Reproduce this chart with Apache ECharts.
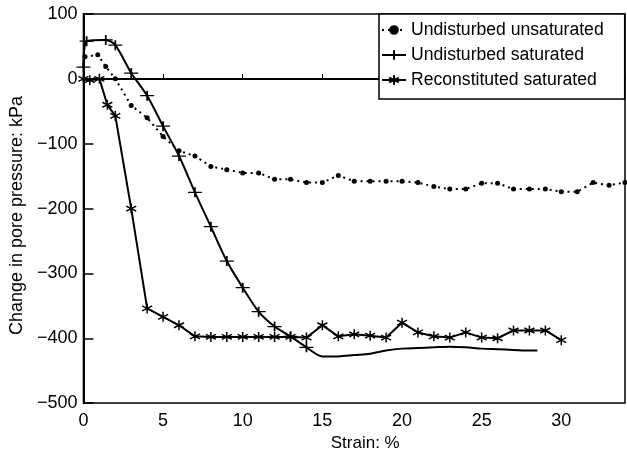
<!DOCTYPE html>
<html>
<head>
<meta charset="utf-8">
<script src="https://cdn.jsdelivr.net/npm/echarts@6/dist/echarts.min.js"></script>
<style>
  html, body { margin: 0; padding: 0; background: #fff; }
  #chart { width: 627px; height: 457px; }
</style>
</head>
<body>
<div id="chart"></div>
<script>
// strain (%) and pore pressure change (kPa)
var unsatStrain = [0.1, 0.9, 1.4, 2, 3, 4, 5, 6, 7, 8, 9, 10, 11, 12, 13, 14, 15, 16, 17, 18, 19, 20, 21, 22, 23, 24, 25, 26, 27, 28, 29, 30, 31, 32, 33, 34]
var unsatPressure = [34, 37, 19, 0, -41, -60, -89, -111, -119, -135, -140, -145, -145, -155, -155, -160, -160, -149, -158, -158, -158, -158, -160, -166, -170, -170, -161, -161, -170, -170, -170, -174, -174, -160, -164, -160]

var satStrain = [0, 0.2, 1.4, 2, 3, 4, 5, 6, 7, 8, 9, 10, 11, 12, 13, 14, 15, 16, 17, 18, 19, 20, 21, 22, 23, 24, 25, 26, 27, 28, 28.5]
var satPressure = [18, 58, 60, 52, 9, -26, -73, -119, -175, -228, -281, -322, -359, -382, -397, -414, -428, -428, -426, -424, -419, -416, -415, -414, -413, -414, -416, -417, -418, -419, -419]

var reconStrain = [0, 0.4, 1, 1.5, 2, 3, 4, 5, 6, 7, 8, 9, 10, 11, 12, 13, 14, 15, 16, 17, 18, 19, 20, 21, 22, 23, 24, 25, 26, 27, 28, 29, 30]
var reconPressure = [0, -2, 0, -40, -57, -200, -354, -367, -380, -397, -398, -398, -398, -398, -398, -398, -399, -380, -397, -394, -396, -399, -376, -391, -397, -399, -391, -399, -400, -388, -388, -388, -403]

var seriesNames = ['Undisturbed unsaturated', 'Undisturbed saturated', 'Reconstituted saturated']

function pairs(xs, ys) {
  return xs.map(function(x, i) { return [x, ys[i]] })
}

// 十字 和 星号 标记
var plusPath = 'path://M0,5L14,5M7,0L7,10'
var starPath = 'path://M5,0L5,10M0.7,2.5L9.3,7.5M0.7,7.5L9.3,2.5'

var satData = pairs(satStrain, satPressure).map(function(p) {
  return p[0] >= 15 ? { value: p, symbol: 'none' } : p
})

var chart = echarts.init(document.getElementById('chart'))
var font = 'Liberation Sans, Arial, sans-serif'
var option = {
  animation: false,
  grid: {
    left: 83, right: 2, top: 14, bottom: 52,
    show: true,
    borderColor: '#000',
    borderWidth: 1.5
  },
  legend: {
    data: seriesNames,
    orient: 'vertical',
    left: 379,
    top: 14,
    z: 100,
    padding: [7, 21, 10, 2],
    itemGap: 7,
    itemWidth: 24,
    itemHeight: 12,
    backgroundColor: '#fff',
    borderColor: '#000',
    borderWidth: 1.5,
    borderRadius: 0,
    textStyle: {
      fontFamily: font,
      fontSize: 17.6,
      color: '#000',
      lineHeight: 17
    }
  },
  xAxis: {
    type: 'value',
    min: 0,
    max: 34,
    interval: 5,
    name: 'Strain: %',
    nameLocation: 'middle',
    nameGap: 27,
    nameTextStyle: { fontFamily: font, fontSize: 17, color: '#000', padding: [0, 0, 0, 22] },
    splitLine: { show: false },
    axisLine: { lineStyle: { color: '#000', width: 2 } },
    axisTick: { inside: true, length: 5, lineStyle: { color: '#000' } },
    axisLabel: { fontFamily: font, fontSize: 18, color: '#000', margin: 9, showMaxLabel: false }
  },
  yAxis: {
    type: 'value',
    min: -500,
    max: 100,
    interval: 100,
    name: 'Change in pore pressure: kPa',
    nameLocation: 'middle',
    nameGap: 56,
    nameTextStyle: { fontFamily: font, fontSize: 18, color: '#000', padding: [0, 14, 0, 0] },
    splitLine: { show: false },
    axisLine: { lineStyle: { color: '#000', width: 2 } },
    axisTick: { inside: true, length: 10, lineStyle: { color: '#000', width: 1.5 } },
    axisLabel: {
      fontFamily: font,
      fontSize: 18,
      color: '#000',
      margin: 6,
      formatter: function(v) {
        return v < 0 ? '\u2212' + Math.abs(v) : String(v)
      }
    }
  },
  series: [
    {
      name: seriesNames[0],
      type: 'line',
      data: pairs(unsatStrain, unsatPressure),
      symbol: 'circle',
      symbolSize: 5,
      itemStyle: { color: '#000' },
      lineStyle: { color: '#000', width: 2, type: [2, 4] },
      markLine: {
        silent: true,
        symbol: 'none',
        label: { show: false },
        lineStyle: { color: '#000', width: 2, type: 'solid' },
        data: [{ yAxis: 0 }]
      }
    },
    {
      name: seriesNames[1],
      type: 'line',
      data: satData,
      smooth: 0.3,
      symbol: plusPath,
      symbolSize: [14, 10],
      itemStyle: { color: '#000', borderColor: '#000', borderWidth: 1.5 },
      lineStyle: { color: '#000', width: 2 }
    },
    {
      name: seriesNames[2],
      type: 'line',
      data: pairs(reconStrain, reconPressure),
      symbol: starPath,
      symbolSize: 10,
      itemStyle: { color: '#000', borderColor: '#000', borderWidth: 1.5 },
      lineStyle: { color: '#000', width: 2 }
    }
  ]
}
chart.setOption(option)
</script>
</body>
</html>
